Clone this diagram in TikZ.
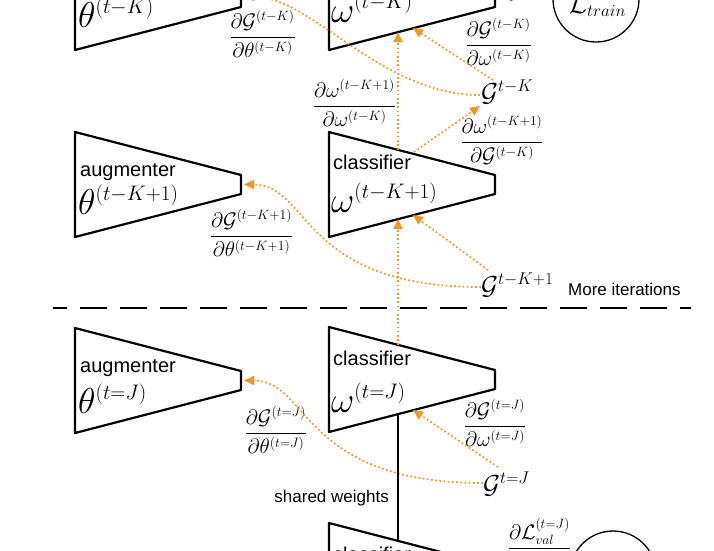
\RequirePackage{fix-cm}
\documentclass[tikz,border=0pt]{standalone}
\usepackage[no-math]{fontspec}
\usepackage{amsmath}
\newfontfamily\labelfont{Liberation Sans}
\usetikzlibrary{arrows.meta,calc}
\DeclareMathSizes{36}{36}{21}{16}
\DeclareMathSizes{21}{21}{13.5}{10}
\DeclareMathSizes{26}{26}{17}{12}
\definecolor{gorange}{RGB}{242,148,44}
\definecolor{gpurple}{RGB}{160,70,200}
\newcommand\trapez[3]{%
  \coordinate (#1) at (#2,#3);
  \draw[trap] (#1) -- ++(166,43) -- ++(0,19) -- ++(-166,43) -- cycle;}
\begin{document}
\begin{tikzpicture}[x=1pt,y=-1pt,
  trap/.style={draw, line width=2.2pt, line join=round},
  grad/.style={draw=gorange, line width=1.7pt, dash pattern=on 1.7pt off 2.5pt,
    -{Triangle[length=10pt,width=9pt]}},
  word/.style={font=\labelfont\fontsize{20}{24}\selectfont, inner sep=0pt},
  smallword/.style={font=\labelfont\fontsize{17}{20}\selectfont, inner sep=0pt},
  big/.style={font=\fontsize{36}{40}\selectfont, inner sep=0pt},
  fr/.style={font=\fontsize{21}{25}\selectfont, inner sep=0pt},
  gsym/.style={font=\fontsize{26}{30}\selectfont, inner sep=0pt},
  loss/.style={draw, circle, line width=1.3pt, minimum size=86pt, inner sep=0pt}]
\useasboundingbox (0,0) rectangle (714,550);
\clip (0,0) rectangle (714,550);

% trapezoids
\trapez{augA}{75}{-55}
\trapez{clsA}{329}{-55}
\trapez{augB}{75}{132}
\trapez{clsB}{329}{132}
\trapez{augC}{75}{328}
\trapez{clsC}{329}{327}
\trapez{clsD}{329}{523}

% labels inside
\node[word, anchor=base west] (tAa) at (80,-11) {augmenter};
\node[big, anchor=base west] (tAb) at (78,27) {$\theta^{(t-K)}$};
\node[word, anchor=base west] (tAc) at (333,-18) {classifier};
\node[big, anchor=base west] (tAd) at (331,22) {$\omega^{(t-K)}$};

\node[word, anchor=base west] (tBa) at (80,176) {augmenter};
\node[big, anchor=base west] (tBb) at (78,214) {$\theta^{(t-K+1)}$};
\node[word, anchor=base west] (tBc) at (333,169) {classifier};
\node[big, anchor=base west] (tBd) at (331,212) {$\omega^{(t-K+1)}$};

\node[word, anchor=base west] (tCa) at (80,372) {augmenter};
\node[big, anchor=base west] (tCb) at (78,413) {$\theta^{(t=J)}$};
\node[word, anchor=base west] (tCc) at (333,365) {classifier};
\node[big, anchor=base west] (tCd) at (331,412) {$\omega^{(t=J)}$};

\node[word, anchor=base west] (tDc) at (333,561) {classifier};

% G nodes
\node[gsym, anchor=base west] (gA) at (481,101) {$\mathcal{G}^{t-K}$};
\node[gsym, anchor=base west] (gB) at (481,294) {$\mathcal{G}^{t-K+1}$};
\node[gsym, anchor=base west] (gC) at (483,493) {$\mathcal{G}^{t=J}$};

% fractions
\node[fr] (f1) at (262.5,34) {$\dfrac{\partial\mathcal{G}^{(t-K)}}{\partial\theta^{(t-K)}}$};
\node[fr] (f2) at (498.5,42) {$\dfrac{\partial\mathcal{G}^{(t-K)}}{\partial\omega^{(t-K)}}$};
\node[fr] (f3) at (354.5,103) {$\dfrac{\partial\omega^{(t-K+1)}}{\partial\omega^{(t-K)}}$};
\node[fr] (f4) at (502,140) {$\dfrac{\partial\omega^{(t-K+1)}}{\partial\mathcal{G}^{(t-K)}}$};
\node[fr] (f5) at (251.5,233) {$\dfrac{\partial\mathcal{G}^{(t-K+1)}}{\partial\theta^{(t-K+1)}}$};
\node[fr] (f6) at (276,430) {$\dfrac{\partial\mathcal{G}^{(t=J)}}{\partial\theta^{(t=J)}}$};
\node[fr] (f7) at (495,423) {$\dfrac{\partial\mathcal{G}^{(t=J)}}{\partial\omega^{(t=J)}}$};
\node[fr] (f8) at (539.5,543) {$\dfrac{\partial\mathcal{L}_{val}^{(t=J)}}{\partial\omega^{(t=J)}}$};

% other texts
\node[smallword, anchor=base west] (more) at (568,295) {More iterations};
\node[smallword, anchor=base east] (shared) at (389,502) {shared weights};

% loss circles
\node[loss] (Ltr) at (596,-1) {};
\node[gsym, anchor=base west] (Ltrtxt) at (569,13) {$\mathcal{L}_{train}$};
\node[loss] (Lval) at (613,574) {};

% separator
\coordinate (sepL) at (53,308);
\coordinate (sepR) at (691,308);
\draw[line width=1.5pt, dash pattern=on 27pt off 13pt, dash phase=13pt] (sepL) -- (sepR);

% connector end points on the trapezoids
\coordinate (augAend) at (244,-3.5);
\coordinate (augBend) at (244,184.5);
\coordinate (augCend) at (244,380.5);
\coordinate (clsAbv) at (398,32);
\coordinate (clsAbd) at (413,28);
\coordinate (clsBtv) at (398,150);
\coordinate (clsBtd) at (414,152);
\coordinate (clsBbv) at (398,219);
\coordinate (clsBbd) at (413,215);
\coordinate (clsCtv) at (398,345);
\coordinate (clsCbd) at (413,410);
\coordinate (clsCbv) at (398,414);
\coordinate (clsDtv) at (398,541);

% gradient curves to augmenters
\draw[grad] ($(gA.base west)+(-1,-6)$) .. controls (380,95) and (312,-3.5) .. (augAend);
\draw[grad] ($(gB.base west)+(0,-7)$) .. controls (300,287) and (310,184.5) .. (augBend);
\draw[grad] ($(gC.base west)+(0,-10)$) .. controls (300,483) and (310,380.5) .. (augCend);

% diagonals
\draw[grad] ($(gA.base west)+(12,-21)$) -- (clsAbd);
\draw[grad] (clsBtd) -- ($(gA.base west)+(-1,5)$);
\draw[grad] ($(gB.base west)+(7,-24)$) -- (clsBbd);
\draw[grad] ($(gC.base west)+(15,-26)$) -- (clsCbd);

% verticals
\draw[grad] (clsBtv) -- (clsAbv);
\draw[grad] (clsCtv) -- (clsBbv);

% shared weights
\draw[line width=1.5pt] (clsCbv) -- (clsDtv);

% purple
\draw[draw=gpurple, line width=1.5pt, -{Triangle[length=10pt,width=9pt]}]
  ($(Ltr.west)+(0,-8)$) -- ($(clsA)+(173,53)$);
\end{tikzpicture}
\end{document}
